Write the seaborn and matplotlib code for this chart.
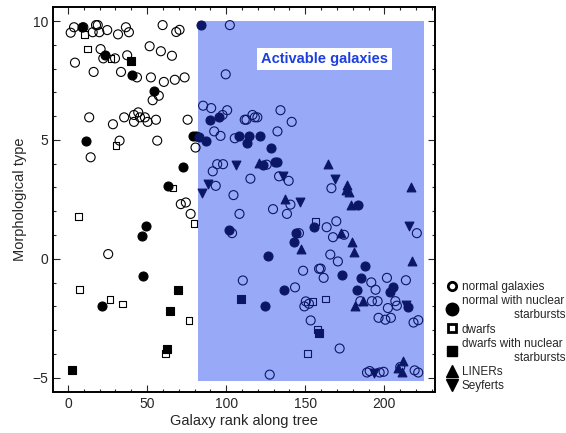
import pandas as pd
import matplotlib
matplotlib.use('Agg')
import matplotlib.pyplot as plt
from matplotlib.lines import Line2D
import seaborn as sns

# (rank, type), grouped by galaxy class
normal = [(1.7, 9.51), (3.8, 9.74), (9.7, 9.74), (15.6, 9.53), (17.7, 9.83), (18.8, 9.83),
          (19.8, 9.53), (24.8, 9.62), (31.6, 9.44), (36.6, 9.74), (38.5, 9.53), (59.8, 9.83),
          (68.4, 9.54), (70.5, 9.63), (20.6, 8.82), (22.3, 8.43), (29.7, 8.43), (37.4, 8.56),
          (51.6, 8.94), (58.7, 8.73), (65.7, 8.54), (4.4, 8.25), (16.2, 7.86), (33.5, 7.86),
          (43.6, 7.63), (52.4, 7.63), (60.6, 7.44), (67.5, 7.53), (73.7, 7.63), (57.4, 6.86),
          (53.5, 6.67), (13.4, 5.95), (28.4, 5.66), (35.5, 5.95), (41.7, 6.05), (44.4, 6.16),
          (45.5, 5.95), (41.7, 5.76), (48.6, 5.95), (50.3, 5.76), (55.6, 5.85), (75.6, 5.85),
          (32.6, 4.97), (56.4, 4.97), (80.6, 4.68), (14.3, 4.27), (71.3, 2.30), (74.5, 2.37),
          (77.5, 1.89), (25.4, 0.20),
          (102.3, 9.83), (99.7, 7.76), (85.4, 6.44), (90.5, 6.34), (97.7, 6.05), (100.6, 6.25),
          (111.7, 5.85), (112.8, 5.85), (116.6, 6.05), (118.1, 5.95), (119.7, 5.95), (134.3, 6.25),
          (141.4, 5.76), (92.4, 5.36), (96.4, 5.17), (105.4, 5.07), (132.4, 5.36), (94.3, 3.98),
          (98.0, 3.98), (91.5, 3.68), (125.6, 3.96), (115.3, 3.37), (133.4, 3.47), (139.5, 3.28),
          (93.4, 3.07), (104.6, 2.68), (108.4, 1.89), (129.6, 2.09), (138.4, 1.89), (140.6, 2.28),
          (103.7, 1.08), (146.0, 1.08), (148.6, -0.50), (158.7, -0.42), (110.5, -0.91),
          (143.5, -1.20), (150.3, -1.79), (152.3, -1.89), (149.4, -2.00), (153.4, -2.59),
          (127.5, -4.87), (166.5, 2.97), (169.6, 1.58), (163.5, 1.33), (220.5, 1.08),
          (174.5, 1.01), (167.5, 0.91), (165.8, 0.18), (170.6, -0.11), (159.7, -0.41),
          (161.6, -0.80), (191.7, -0.99), (201.6, -0.80), (213.6, -0.90), (194.4, -1.30),
          (184.8, -1.78), (192.1, -1.78), (195.7, -1.78), (206.9, -1.78), (202.2, -2.07),
          (207.9, -1.97), (196.3, -2.48), (200.6, -2.56), (204.1, -2.48), (218.4, -2.68),
          (221.4, -2.58), (171.7, -3.77), (189.0, -4.78), (190.7, -4.72), (197.0, -4.78),
          (199.5, -4.75), (210.0, -4.55), (219.1, -4.69), (221.4, -4.78)]
normal_sb = [(8.6, 9.74), (23.5, 8.56), (40.4, 7.74), (54.5, 7.06), (11.6, 4.97), (78.7, 5.17),
             (80.8, 5.17), (72.6, 3.88), (63.3, 3.08), (49.4, 1.39), (46.5, 0.98), (47.5, -0.71),
             (21.3, -2.00),
             (83.8, 9.83), (82.7, 5.14), (89.6, 5.85), (95.5, 5.95), (87.3, 4.97), (108.0, 5.17),
             (114.5, 5.17), (113.4, 4.86), (121.4, 5.17), (128.4, 4.66), (123.5, 3.96),
             (130.9, 4.09), (131.9, 4.09), (155.7, 1.33), (101.6, 1.22), (144.4, 1.08),
             (142.7, 0.69), (126.5, 0.10), (136.6, -1.30), (124.6, -2.00), (183.5, 2.28),
             (187.7, -0.29), (173.4, -0.70), (185.4, -0.80), (182.6, -1.30), (205.6, -1.20),
             (203.5, -1.40), (215.1, -2.02)]
dwarfs = [(10.5, 9.44), (12.4, 8.82), (27.3, 8.43), (30.3, 4.76), (66.5, 2.97), (79.5, 1.48),
          (6.5, 1.78), (7.4, -1.30), (26.5, -1.71), (34.3, -1.90), (76.6, -2.59), (61.7, -3.98),
          (156.6, 1.58), (154.5, -1.79), (157.6, -2.98), (151.3, -3.99), (162.7, -1.69)]
dwarfs_sb = [(39.6, 8.33), (69.6, -1.30), (64.4, -2.21), (62.3, -3.78), (2.7, -4.69),
             (109.4, -1.69), (158.7, -3.12)]
liners = [(120.6, 4.02), (137.4, 2.51), (147.5, 0.41), (164.6, 3.99), (176.6, 3.10),
          (176.0, 2.90), (177.6, 2.79), (178.7, 2.28), (216.5, 3.00), (172.8, 1.08),
          (179.3, 0.70), (180.6, 0.29), (217.6, -0.10), (181.6, -1.97), (186.4, -1.78),
          (211.7, -4.29), (208.8, -4.58), (210.9, -4.78)]
seyferts = [(84.6, 2.76), (88.2, 3.15), (106.5, 3.95), (135.9, 3.47), (146.5, 2.37),
            (168.6, 3.36), (215.5, 1.36), (213.4, -1.95), (193.2, -4.80)]

active_range = (82, 225)
active_types = (-5.13, 10.0)

BLACK = 'black'
NAVY = '#0b1766'
SHADE = '#98a9f8'

sns.set_style('ticks')
plt.rcParams['font.family'] = ['Liberation Sans', 'DejaVu Sans']

fig = plt.figure(figsize=(5.66, 4.33), dpi=100)
ax = fig.add_axes([0.0936, 0.0947, 0.675, 0.888])

ax.fill_between(list(active_range), active_types[0], active_types[1],
                color=SHADE, linewidth=0, zorder=0)

groups = [
    (normal, 'o', 42, False),
    (normal_sb, 'o', 42, True),
    (dwarfs, 's', 22, False),
    (dwarfs_sb, 's', 26, True),
    (liners, '^', 40, True),
    (seyferts, 'v', 40, True),
]
for pts, mk, size, filled in groups:
    df = pd.DataFrame(pts, columns=['rank', 'type'])
    for inside, sub in df.groupby(df['rank'] > active_range[0]):
        col = NAVY if inside else BLACK
        sns.scatterplot(data=sub, x='rank', y='type', marker=mk, s=size,
                        color=col, edgecolor=col,
                        facecolor=col if filled else 'none',
                        linewidth=0.8, ax=ax, legend=False, zorder=3)

ax.text(162, 8.4, 'Activable galaxies', color='#1d3fe0', fontsize=10.5,
        fontweight='bold', ha='center', va='center',
        bbox=dict(facecolor='white', edgecolor='none', pad=3))

ax.set_xlim(-9.5, 232)
ax.set_ylim(-5.6, 10.57)
ax.set_xticks([0, 50, 100, 150, 200])
ax.set_yticks([-5, 0, 5, 10])
ax.set_xticks(range(0, 231, 10), minor=True)
ax.set_yticks(range(-5, 11), minor=True)
ax.tick_params(which='both', direction='in', top=True, right=True,
               width=0.8, labelsize=10)
ax.tick_params(which='major', length=5)
ax.tick_params(which='minor', length=2.5)
for sp in ax.spines.values():
    sp.set_linewidth(1.4)
    sp.set_color('black')
ax.set_xlabel('Galaxy rank along tree', fontsize=10.5, labelpad=2)
ax.set_ylabel('Morphological type', fontsize=10.5, labelpad=4)

handles = [
    Line2D([], [], ls='', marker='o', mfc='none', mec='k', mew=2, ms=6),
    Line2D([], [], ls='', marker='o', mfc='k', mec='k', ms=9),
    Line2D([], [], ls='', marker='s', mfc='none', mec='k', mew=2, ms=6),
    Line2D([], [], ls='', marker='s', mfc='k', mec='k', ms=7),
    Line2D([], [], ls='', marker='^', mfc='k', mec='k', ms=9),
    Line2D([], [], ls='', marker='v', mfc='k', mec='k', ms=9),
]
labels = ['normal galaxies', 'normal with nuclear\n                starbursts', 'dwarfs',
          'dwarfs with nuclear\n                starbursts', 'LINERs', 'Seyferts']
fig.legend(handles, labels, loc='lower left', bbox_to_anchor=(0.78, 0.08),
           frameon=False, fontsize=8.5, handlelength=0.8, handletextpad=0.4,
           labelspacing=0.2, borderpad=0)

fig.savefig('out.png', dpi=100)
